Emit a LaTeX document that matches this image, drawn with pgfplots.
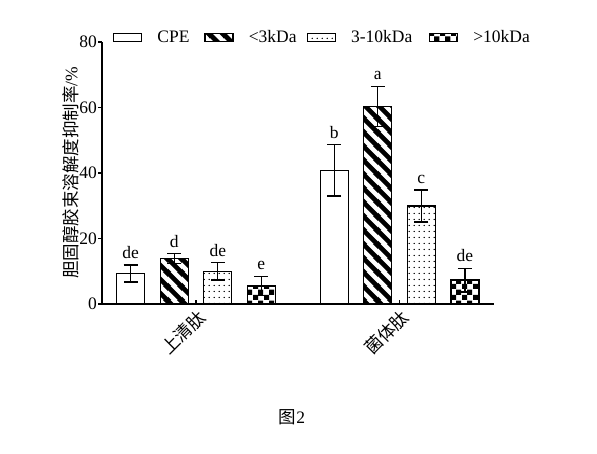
\documentclass[border=0pt]{standalone}
\usepackage{pgfplots}
\pgfplotsset{compat=1.18}
\usepackage{pgfplotstable}
\usepackage{fontspec}
\setmainfont{Liberation Serif}
\newfontfamily\cjk{Noto Sans CJK SC}
\usetikzlibrary{patterns}

\newcommand\bigf{\fontsize{17.5bp}{21bp}\selectfont}

\pgfdeclarepatternformonly{bigstripes}{\pgfqpoint{0bp}{0bp}}{\pgfqpoint{14bp}{14bp}}{\pgfqpoint{14bp}{14bp}}{%
  \pgfsetlinewidth{5bp}%
  \pgfpathmoveto{\pgfqpoint{-3bp}{3bp}}\pgfpathlineto{\pgfqpoint{3bp}{-3bp}}%
  \pgfpathmoveto{\pgfqpoint{-3bp}{17bp}}\pgfpathlineto{\pgfqpoint{17bp}{-3bp}}%
  \pgfpathmoveto{\pgfqpoint{11bp}{17bp}}\pgfpathlineto{\pgfqpoint{17bp}{11bp}}%
  \pgfusepath{stroke}}
\pgfdeclarepatternformonly{sparsedots}{\pgfqpoint{0bp}{0bp}}{\pgfqpoint{4.7bp}{5.5bp}}{\pgfqpoint{4.7bp}{5.5bp}}{%
  \pgfpathcircle{\pgfqpoint{2.35bp}{2.75bp}}{0.8bp}%
  \pgfusepath{fill}}
\pgfdeclarepatternformonly{checker}{\pgfqpoint{0bp}{0bp}}{\pgfqpoint{11bp}{11bp}}{\pgfqpoint{11bp}{11bp}}{%
  \pgfpathrectangle{\pgfqpoint{0bp}{0bp}}{\pgfqpoint{5.5bp}{5.5bp}}%
  \pgfpathrectangle{\pgfqpoint{5.5bp}{5.5bp}}{\pgfqpoint{5.5bp}{5.5bp}}%
  \pgfusepath{fill}}

\pgfplotstableread{
x y err lab
-0.321 9.3 2.6 de
0.679 40.8 7.8 b
}\tabcpe
\pgfplotstableread{
x y err lab
-0.107 13.9 1.5 d
0.893 60.3 6.2 a
}\tabsmall
\pgfplotstableread{
x y err lab
0.107 10.0 2.7 de
1.107 29.9 4.9 c
}\tabmid
\pgfplotstableread{
x y err lab
0.321 5.5 3.0 e
1.321 7.3 3.6 de
}\tablarge

\pgfplotsset{
  mybar/.style={ybar, bar width=28bp, bar shift=0pt, draw=black, line width=1.3bp,
    legend image code/.code={\draw[##1] (0bp,-4bp) rectangle (28bp,4bp); \path (43bp,0bp);},
    error bars/y dir=both, error bars/y explicit},
  letters/.style={draw=none, mark=none, forget plot, nodes near coords, point meta=explicit symbolic,
    every node near coord/.style={anchor=south, inner sep=0pt, yshift=6bp, black, font=\bigf}},
}

\begin{document}
\begin{tikzpicture}[font=\bigf]
\path[use as bounding box] (0,0) rectangle (597bp,454bp);
\begin{axis}[
  font=\bigf,
  at={(102bp,150bp)}, anchor=south west,
  scale only axis, width=392bp, height=262bp,
  xmin=-0.462, xmax=1.464, ymin=0, ymax=80,
  axis lines*=left,
  axis line style={line width=1.3bp},
  every tick/.style={black, line width=1.3bp},
  tick align=outside,
  major tick length=4bp,
  xtick={0,1},
  xticklabels={上清肽,菌体肽},
  xtick style={yshift=4bp},
  xticklabel style={font=\bigf\cjk, rotate=45, anchor=north east, inner sep=0pt},
  ytick={0,20,40,60,80},
  yticklabel style={font=\bigf, inner sep=0pt, xshift=-1bp},
  /pgf/number format/assume math mode=true,
  ylabel={{\cjk 胆固醇胶束溶解度抑制率}/\%},
  ylabel style={font=\bigf, at={(axis description cs:-0.08,0.5)}, anchor=center},
  legend columns=4,
  legend style={font=\bigf, at={(axis description cs:0.028,1.017)}, anchor=west, draw=none, fill=none, inner sep=0pt, column sep=0pt, nodes={inner sep=0pt}},
  error bars/error bar style={line width=1.3bp, black},
  error bars/error mark options={rotate=90, line width=1.3bp, mark size=7bp, black},
]
\addplot[mybar, fill=white] table[x=x, y=y, y error=err] {\tabcpe};
\addlegendentry{\makebox[47bp][l]{CPE}}
\addplot[mybar, pattern=bigstripes] table[x=x, y=y, y error=err] {\tabsmall};
\addlegendentry{\makebox[58bp][l]{<3kDa}}
\addplot[mybar, pattern=sparsedots] table[x=x, y=y, y error=err] {\tabmid};
\addlegendentry{\makebox[78bp][l]{3-10kDa}}
\addplot[mybar, pattern=checker] table[x=x, y=y, y error=err] {\tablarge};
\addlegendentry{>10kDa}
\addplot[letters] table[x=x, y expr=\thisrow{y}+\thisrow{err}, meta=lab] {\tabcpe};
\addplot[letters] table[x=x, y expr=\thisrow{y}+\thisrow{err}, meta=lab] {\tabsmall};
\addplot[letters] table[x=x, y expr=\thisrow{y}+\thisrow{err}, meta=lab] {\tabmid};
\addplot[letters] table[x=x, y expr=\thisrow{y}+\thisrow{err}, meta=lab] {\tablarge};
\end{axis}
\node[font=\bigf] at (292bp,37bp) {{\cjk 图}2};
\end{tikzpicture}
\end{document}
